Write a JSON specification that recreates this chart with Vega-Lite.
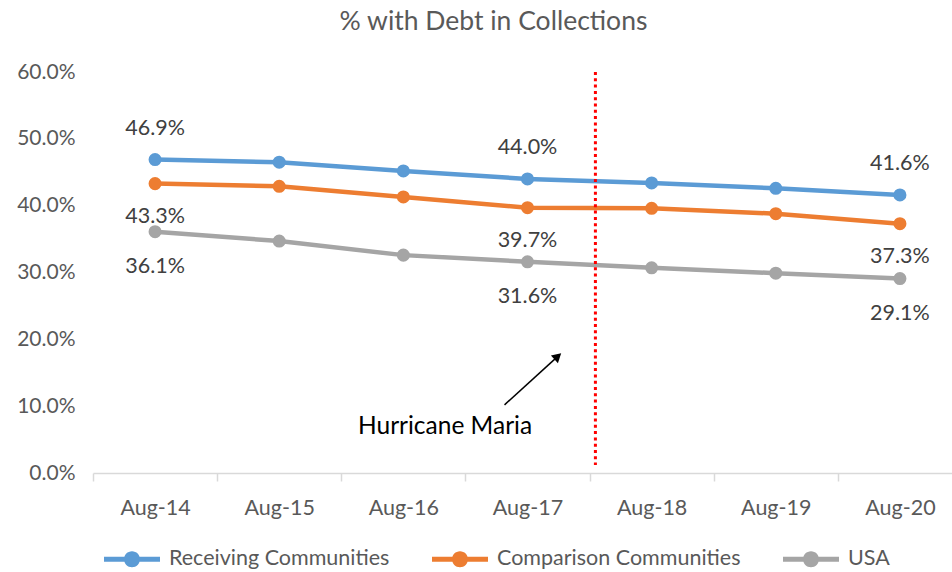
{
  "$schema": "https://vega.github.io/schema/vega-lite/v6.json",
  "autosize": {"type": "none"},
  "padding": {"left": 93, "top": 72, "right": 0, "bottom": 99},
  "width": 859,
  "height": 401,
  "config": {"view": {"stroke": null}, "font": "Lato"},
  "title": {"text": "% with Debt in Collections", "fontSize": 26.5, "fontWeight": "normal", "color": "#595959", "font": "Lato", "dx": -29, "offset": 26},
  "datasets": {
    "series": [
      {"month": "Aug-14", "series": "Receiving Communities", "value": 0.469},
      {"month": "Aug-15", "series": "Receiving Communities", "value": 0.465},
      {"month": "Aug-16", "series": "Receiving Communities", "value": 0.452},
      {"month": "Aug-17", "series": "Receiving Communities", "value": 0.440},
      {"month": "Aug-18", "series": "Receiving Communities", "value": 0.434},
      {"month": "Aug-19", "series": "Receiving Communities", "value": 0.426},
      {"month": "Aug-20", "series": "Receiving Communities", "value": 0.416},
      {"month": "Aug-14", "series": "Comparison Communities", "value": 0.433},
      {"month": "Aug-15", "series": "Comparison Communities", "value": 0.429},
      {"month": "Aug-16", "series": "Comparison Communities", "value": 0.413},
      {"month": "Aug-17", "series": "Comparison Communities", "value": 0.397},
      {"month": "Aug-18", "series": "Comparison Communities", "value": 0.396},
      {"month": "Aug-19", "series": "Comparison Communities", "value": 0.388},
      {"month": "Aug-20", "series": "Comparison Communities", "value": 0.373},
      {"month": "Aug-14", "series": "USA", "value": 0.361},
      {"month": "Aug-15", "series": "USA", "value": 0.347},
      {"month": "Aug-16", "series": "USA", "value": 0.326},
      {"month": "Aug-17", "series": "USA", "value": 0.316},
      {"month": "Aug-18", "series": "USA", "value": 0.307},
      {"month": "Aug-19", "series": "USA", "value": 0.299},
      {"month": "Aug-20", "series": "USA", "value": 0.291}
    ],
    "event": [
      {"label": "Hurricane Maria", "lineX": 4.047, "lineTop": 0.6, "lineBottom": 0.012, "arrowX": 3.315, "arrowY": 0.102, "headX": 3.744, "headY": 0.1745, "textX": 2.836, "textY": 0.069}
    ]
  },
  "resolve": {"scale": {"x": "independent"}},
  "layer": [
    {
      "data": {"name": "series"},
      "encoding": {
        "x": {"field": "month", "type": "nominal", "sort": null,
          "scale": {"type": "band", "range": [0, 869], "paddingInner": 0, "paddingOuter": 0},
          "axis": {"title": null, "labelAngle": 0, "labelFontSize": 21.5, "labelColor": "#595959", "labelPadding": 16,
            "domainColor": "#d9d9d9", "domainWidth": 1.5, "tickColor": "#d9d9d9", "tickWidth": 1.5, "tickSize": 8, "tickBand": "extent", "grid": false}},
        "y": {"field": "value", "type": "quantitative",
          "scale": {"domain": [0, 0.6], "nice": false, "zero": true},
          "axis": {"title": null, "format": ".1%", "values": [0, 0.1, 0.2, 0.3, 0.4, 0.5, 0.6], "grid": false, "domain": false, "ticks": false,
            "labelFontSize": 21, "labelColor": "#595959", "labelPadding": 18}},
        "color": {"field": "series", "type": "nominal",
          "scale": {"domain": ["Receiving Communities", "Comparison Communities", "USA"], "range": ["#5B9BD5", "#ED7D31", "#A5A5A5"]},
          "legend": {"title": null, "orient": "none", "direction": "horizontal", "columns": 3, "legendX": 11, "legendY": 459,
            "symbolType": "M-1,-0.09H1V0.09H-1Z M0.286,0A0.286,0.286 0 1 1 -0.286,0A0.286,0.286 0 1 1 0.286,0Z",
            "symbolSize": 3136, "symbolStrokeWidth": 0, "symbolOpacity": 1,
            "labelFontSize": 21.5, "labelColor": "#595959", "labelOffset": 9, "labelLimit": 0, "columnPadding": 42}}
      },
      "layer": [
        {"mark": {"type": "line", "strokeWidth": 4.5, "strokeCap": "round"}},
        {"mark": {"type": "point", "filled": true, "size": 170, "opacity": 1}},
        {
          "transform": [{"filter": {"field": "month", "oneOf": ["Aug-14", "Aug-17", "Aug-20"]}}, {"filter": "datum.series === 'Receiving Communities'"}],
          "mark": {"type": "text", "dy": -31, "fontSize": 21.5, "color": "#404040"},
          "encoding": {"text": {"field": "value", "type": "quantitative", "format": ".1%"}, "color": {"value": "#404040"}}
        },
        {
          "transform": [{"filter": {"field": "month", "oneOf": ["Aug-14", "Aug-17", "Aug-20"]}}, {"filter": "datum.series === 'Comparison Communities'"}],
          "mark": {"type": "text", "dy": 33, "fontSize": 21.5, "color": "#404040"},
          "encoding": {"text": {"field": "value", "type": "quantitative", "format": ".1%"}, "color": {"value": "#404040"}}
        },
        {
          "transform": [{"filter": {"field": "month", "oneOf": ["Aug-14", "Aug-17", "Aug-20"]}}, {"filter": "datum.series === 'USA'"}],
          "mark": {"type": "text", "dy": 35, "fontSize": 21.5, "color": "#404040"},
          "encoding": {"text": {"field": "value", "type": "quantitative", "format": ".1%"}, "color": {"value": "#404040"}}
        }
      ]
    },
    {
      "data": {"name": "event"},
      "layer": [
        {
          "mark": {"type": "rule", "color": "#FF0000", "strokeWidth": 3, "strokeDash": [3, 3.3]},
          "encoding": {
            "x": {"field": "lineX", "type": "quantitative", "scale": {"domain": [0, 7], "range": [0, 869], "nice": false, "zero": false}, "axis": null},
            "y": {"field": "lineTop", "type": "quantitative"},
            "y2": {"field": "lineBottom"}
          }
        },
        {
          "mark": {"type": "rule", "color": "#000000", "strokeWidth": 1.5},
          "encoding": {
            "x": {"field": "arrowX", "type": "quantitative", "scale": {"domain": [0, 7], "range": [0, 869], "nice": false, "zero": false}, "axis": null},
            "y": {"field": "arrowY", "type": "quantitative"},
            "x2": {"field": "headX"},
            "y2": {"field": "headY"}
          }
        },
        {
          "mark": {"type": "point", "shape": "triangle-up", "filled": true, "color": "#000000", "size": 110, "angle": 48, "opacity": 1},
          "encoding": {
            "x": {"field": "headX", "type": "quantitative", "scale": {"domain": [0, 7], "range": [0, 869], "nice": false, "zero": false}, "axis": null},
            "y": {"field": "headY", "type": "quantitative"}
          }
        },
        {
          "mark": {"type": "text", "fontSize": 24.5, "color": "#000000"},
          "encoding": {
            "x": {"field": "textX", "type": "quantitative", "scale": {"domain": [0, 7], "range": [0, 869], "nice": false, "zero": false}, "axis": null},
            "y": {"field": "textY", "type": "quantitative"},
            "text": {"field": "label"}
          }
        }
      ]
    }
  ]
}
